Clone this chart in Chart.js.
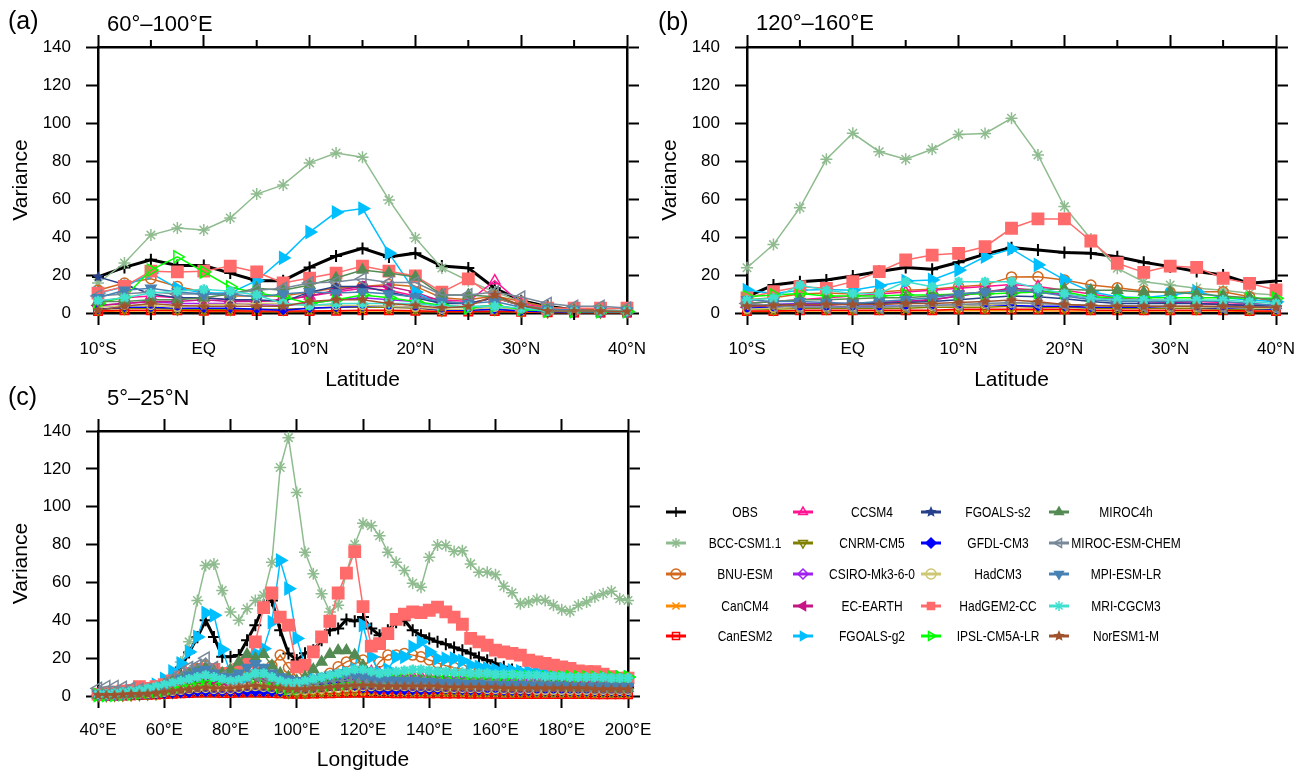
<!DOCTYPE html>
<html>
<head>
<meta charset="utf-8">
<script src="https://cdn.jsdelivr.net/npm/chart.js@4.4.1/dist/chart.umd.min.js"></script>
<style>
  html, body { margin: 0; padding: 0; background: #fff; overflow: hidden; }
  body { width: 1311px; height: 774px; position: relative; }
  canvas { position: absolute; }
</style>
</head>
<body>
<canvas id="panelA" width="660" height="400" style="left:0;top:0"></canvas>
<canvas id="panelB" width="660" height="400" style="left:649px;top:0"></canvas>
<canvas id="panelC" width="1311" height="390" style="left:0;top:384px"></canvas>
<script>
// ---- axes ----
const latitudes = [-10, -7.5, -5, -2.5, 0, 2.5, 5, 7.5, 10, 12.5, 15, 17.5, 20, 22.5, 25, 27.5, 30, 32.5, 35, 37.5, 40];
const latTicks = [-10, 0, 10, 20, 30, 40];
const latTickLabels = ['10°S', 'EQ', '10°N', '20°N', '30°N', '40°N'];
const latMinorTicks = [-5, 5, 15, 25, 35];

const longitudes = [40, 42.5, 45, 47.5, 50, 52.5, 55, 57.5, 60, 62.5, 65, 67.5, 70, 72.5, 75, 77.5, 80, 82.5, 85, 87.5,
  90, 92.5, 95, 97.5, 100, 102.5, 105, 107.5, 110, 112.5, 115, 117.5, 120, 122.5, 125, 127.5, 130, 132.5, 135, 137.5,
  140, 142.5, 145, 147.5, 150, 152.5, 155, 157.5, 160, 162.5, 165, 167.5, 170, 172.5, 175, 177.5, 180, 182.5, 185, 187.5,
  190, 192.5, 195, 197.5, 200];
const lonTicks = [40, 60, 80, 100, 120, 140, 160, 180, 200];
const lonTickLabels = ['40°E', '60°E', '80°E', '100°E', '120°E', '140°E', '160°E', '180°E', '200°E'];

const modelNames = ['OBS', 'BCC-CSM1.1', 'BNU-ESM', 'CanCM4', 'CanESM2', 'CCSM4', 'CNRM-CM5', 'CSIRO-Mk3-6-0',
  'EC-EARTH', 'FGOALS-g2', 'FGOALS-s2', 'GFDL-CM3', 'HadCM3', 'HadGEM2-CC', 'IPSL-CM5A-LR', 'MIROC4h',
  'MIROC-ESM-CHEM', 'MPI-ESM-LR', 'MRI-CGCM3', 'NorESM1-M'];

// ---- (a) 60-100E, by latitude ----
const aOBS      = [19, 24, 28, 25, 25, 21, 17, 17, 24, 30, 34, 29.5, 31.5, 24.7, 23.7, 13, 6.5, 3.5, 1.6, 1, 0.8];
const aBCC      = [15.8, 26.3, 41, 44.7, 43.7, 50, 62.6, 67.4, 79, 84.2, 82, 59.5, 39.5, 23.7, 17, 11, 6, 3, 1.5, 1.2, 1];
const aBNU      = [12, 15.8, 18, 14, 11, 9, 9, 9, 11, 13, 14, 15, 14, 8, 7, 9, 6, 3, 2, 1.5, 1];
const aCanCM4   = [0.8, 1, 1, 1, 0.8, 0.8, 0.6, 0.6, 0.8, 1, 1, 1, 0.8, 0.6, 0.6, 0.8, 0.5, 0.3, 0.3, 0.3, 0.3];
const aCanESM2  = [1, 1.5, 1.5, 1.5, 1.2, 1.2, 1, 1, 1, 1.2, 1.5, 1.5, 1.2, 0.8, 0.8, 1, 0.6, 0.4, 0.3, 0.3, 0.3];
const aCCSM4    = [6, 8, 9, 8, 8, 7, 6, 7, 9, 11, 13, 12, 9, 7, 6, 17, 5, 2.5, 1.5, 1, 1];
const aCNRM     = [2, 2.5, 2.5, 2, 2, 2, 2, 2, 2.5, 3, 3, 3, 2.5, 1.5, 1.5, 2, 1, 0.6, 0.5, 0.5, 0.5];
const aCSIRO    = [4, 5, 6, 5, 5, 5, 4.5, 4, 5, 7, 8, 7, 6, 3, 3, 4, 2, 1, 0.8, 0.8, 0.6];
const aECEARTH  = [4, 5, 6, 6, 7, 6, 6, 7, 9, 12, 14, 14, 11, 6, 5, 8, 4, 2, 1, 0.8, 0.8];
const aFGOALSg2 = [10.5, 13.7, 21, 13, 10.5, 10.5, 17, 29, 42.6, 53, 55, 31.5, 11, 4, 3, 3, 2, 1.5, 1, 1, 0.8];
const aFGOALSs2 = [19, 15, 10, 8, 8, 7, 7, 6, 11, 14, 14, 11, 8, 5, 5, 8, 4, 2, 1.5, 1, 1];
const aGFDL     = [2, 3, 3, 2.5, 2.5, 2.5, 2, 1.5, 2.5, 3, 3.5, 3.5, 3, 1.5, 1.5, 2, 1, 0.6, 0.5, 0.5, 0.5];
const aHadCM3   = [3, 4, 4, 3, 4.5, 4.5, 5, 5, 4, 4, 4, 3.5, 3, 2, 2, 3, 2, 1, 0.8, 0.8, 0.6];
const aHadGEM2  = [10.5, 14, 22, 21.6, 22, 24.7, 21.6, 15.8, 18.4, 21, 24.7, 22, 19.5, 11, 18, 8, 4, 2.5, 2.5, 2.5, 2.5];
const aIPSL     = [5, 8.4, 22.6, 29.5, 21.6, 13.7, 10.5, 8.4, 5, 7, 9.5, 8, 6, 4, 3, 4, 2, 1, 0.8, 0.8, 0.8];
const aMIROC4h  = [6, 6, 7, 7, 8, 10, 13, 12, 14.7, 18.4, 22.6, 21, 19, 9.5, 9.5, 8.5, 4, 2, 1.5, 1, 1];
const aMIROCESM = [9, 10, 11, 10, 10, 10, 12, 13, 15.8, 16.3, 18, 16, 16, 9.5, 9.5, 11, 8.4, 5, 3.5, 3.5, 2.6];
const aMPI      = [8, 12, 13, 11, 10, 10, 8.4, 10, 11, 10.5, 11, 10, 8.4, 6, 5, 6, 3, 2, 1.5, 1, 1];
const aMRI      = [6.5, 8, 10.5, 11.5, 12.5, 11.5, 9.5, 5, 4, 5, 5, 5, 5, 3.5, 3.5, 3.5, 2.6, 1, 1, 1, 1];
const aNorESM   = [1.5, 3.5, 5, 4, 3.5, 3.5, 3.5, 3.5, 6, 7, 7, 5, 4, 2.6, 3.5, 9.5, 4, 1, 1, 1, 0.8];

// ---- (b) 120-160E, by latitude ----
const bOBS      = [8.6, 14.7, 16.5, 17.4, 19.5, 21.8, 23.9, 23, 26.7, 31, 34.4, 33.2, 31.9, 31.4, 29.6, 26.7, 24.4, 21.8, 20, 15.6, 16.8];
const bBCC      = [23.8, 36, 55.4, 80.9, 94.6, 84.9, 80.9, 86.2, 94, 94.5, 102.5, 83.2, 56, 39, 23.5, 16.5, 14.7, 13, 12, 10.4, 9.5];
const bBNU      = [7, 8, 10, 10.5, 10, 11, 12, 12.5, 13.8, 14.8, 19, 19.1, 17.4, 14.7, 13.3, 11.6, 10.7, 11.2, 11.2, 8.6, 5.9];
const bCanCM4   = [0.8, 0.8, 1, 1, 1, 1, 1, 1, 1.2, 1.2, 1.2, 1.2, 1, 1, 1, 1, 1, 1, 1, 0.8, 0.8];
const bCanESM2  = [1, 1, 1.5, 1.5, 1.5, 1.5, 1.5, 1.5, 2, 2, 2, 2, 2, 1.5, 1.5, 1.5, 1.5, 1.5, 1.5, 1, 1];
const bCCSM4    = [5, 6, 7, 8, 9, 10, 11, 12, 13, 14, 15, 14, 12, 10, 8, 7, 6.5, 6, 5.5, 5, 4];
const bCNRM     = [2, 2, 2.5, 2.5, 2.5, 2.5, 2.5, 3, 3, 3, 3.5, 3, 3, 2.5, 2.5, 2.5, 2.5, 2.5, 2, 2, 2];
const bCSIRO    = [4, 4.5, 5, 5, 5, 5.5, 6, 7, 9, 11, 12, 11, 9.5, 8, 7, 6, 5.5, 5, 4.5, 4, 3.5];
const bECEARTH  = [3, 3.5, 4, 4, 5, 5.5, 6, 7, 9, 11, 13, 12, 10, 8, 7, 6, 5.5, 5, 4.5, 4, 3.5];
const bFGOALSg2 = [12, 10.3, 12, 12.4, 12, 14.4, 16.8, 17.4, 22.6, 29.6, 33.7, 25.3, 17.4, 11.2, 8.6, 8, 9.5, 11.2, 8, 6.8, 5.9];
const bFGOALSs2 = [4, 4.5, 4.5, 4.5, 5, 5, 5.5, 6, 7, 8, 9, 8.5, 7.5, 6, 5, 5, 5, 5, 4.5, 4, 3.5];
const bGFDL     = [2.5, 3, 3, 3, 3.5, 3.5, 3.5, 4, 4, 4.5, 4, 3.5, 3.5, 3, 3, 3, 3, 3, 2.5, 2.5, 2];
const bHadCM3   = [2, 2.5, 3, 3, 3, 3, 3.5, 3.5, 4, 4.5, 5, 5, 4.5, 4, 3.5, 3.5, 3, 3, 3, 2.5, 2.5];
const bHadGEM2  = [8, 11.2, 13.8, 13, 16.5, 21.8, 27.9, 30.5, 31.4, 34.9, 44.6, 49.5, 49.5, 37.9, 26.2, 21.4, 24.7, 24, 18.3, 15.6, 12.1];
const bIPSL     = [8.6, 9.5, 10.3, 9, 9, 9, 9.5, 9.5, 10, 10, 10.5, 11, 11, 8.6, 8, 8, 8, 8, 8, 7.7, 7.7];
const bMIROC4h  = [5, 6, 7, 7, 7.5, 8, 8, 9, 10, 11, 12, 12.5, 12.5, 12, 12, 11, 11, 10, 9, 8, 7];
const bMIROCESM = [5, 4, 3, 3, 3, 3, 3.5, 4, 4.5, 5, 5.5, 5, 4.5, 4, 4, 3.5, 3.5, 3.5, 3, 3, 3];
const bMPI      = [7, 6, 6, 5.5, 5, 6, 7, 8, 10, 11, 12, 11, 9, 7, 6, 6, 6, 6.5, 6, 5, 4];
const bMRI      = [6.8, 7.7, 14.7, 12, 10.3, 10.3, 16.5, 13.8, 16.5, 16.5, 16.5, 13, 10.3, 7.7, 6.8, 6.8, 6.8, 6.8, 6.8, 5.9, 5];
const bNorESM   = [3.5, 4, 4.5, 4.5, 4.5, 4.5, 5, 5, 5.5, 6, 6.8, 5.9, 4.5, 4, 3.5, 3.5, 3.5, 3.5, 3.5, 3, 3];

// ---- (c) 5-25N, by longitude ----
const cOBS      = [0.5, 0.5, 0.8, 1, 1.2, 1.5, 2, 3, 5, 9, 15, 23, 31, 40, 31.2, 20.7, 20.7, 21.6, 29.5, 37.4,
  47.9, 50.5, 34.7, 22.5, 19, 22.6, 24.2, 29.5, 34.7, 35.6, 40.4, 39.5, 41.7, 35.6, 32.1, 34.7, 39, 40, 34.7, 32.1,
  30.4, 28.6, 27.4, 25.6, 24.2, 22.5, 20.4, 18.9, 17.2, 15.4, 14, 12.5, 11, 10.2, 9, 8, 7.5, 7, 6.5, 6,
  5.5, 5, 5, 4.5, 4.5];
const cBCC      = [1, 1, 1.5, 1.5, 2, 2.5, 3, 4, 6, 10, 18, 28.6, 50.5, 69, 69.8, 55.8, 44.4, 40, 46.1, 50.5,
  53.2, 70.7, 120.7, 136.5, 107.5, 76, 64.6, 54, 44.4, 48, 65, 80, 91.2, 90, 84.7, 76, 70.7, 66.3, 59.6, 57.5,
  73.3, 79.8, 79.5, 76.3, 76.8, 69.8, 65.4, 65.4, 64, 58, 54.6, 48.8, 49.6, 51, 50.5, 47.9, 45.6, 44.7, 47.9, 49.6,
  52.3, 54, 55.4, 51.4, 50.5];
const cBNU      = [0.5, 0.5, 0.8, 1, 1.5, 2, 3, 4, 6, 8, 10, 12, 14, 16, 14, 12, 10, 9, 10, 12,
  14, 16, 21.6, 15, 10, 8, 8, 9, 12, 15.4, 18, 19.8, 19, 12, 18, 21.6, 21.6, 22.5, 21.6, 20.7,
  19, 17.5, 16, 15, 14, 13, 12.5, 12, 11.5, 11, 10.5, 10, 10, 9.5, 9.5, 9, 9, 9, 8.5, 8.5,
  8.5, 8, 8, 8, 8];
const cCanCM4   = [0.1, 0.1, 0.2, 0.2, 0.3, 0.3, 0.4, 0.5, 0.6, 0.7, 0.8, 0.9, 1, 1, 0.9, 0.8, 0.8, 0.9, 1, 1,
  0.9, 0.8, 0.7, 0.7, 0.6, 0.6, 0.7, 0.7, 0.8, 0.8, 0.9, 0.9, 1, 0.9, 0.9, 0.8, 0.8, 0.8, 0.8, 0.7,
  0.7, 0.7, 0.7, 0.7, 0.6, 0.6, 0.6, 0.6, 0.6, 0.6, 0.5, 0.5, 0.5, 0.5, 0.5, 0.5, 0.5, 0.5, 0.5, 0.5,
  0.4, 0.4, 0.4, 0.4, 0.4];
const cCanESM2  = [0.2, 0.2, 0.3, 0.3, 0.4, 0.5, 0.6, 0.8, 1, 1.2, 1.4, 1.6, 1.8, 2, 1.8, 1.6, 1.6, 1.8, 2, 2,
  1.8, 1.6, 1.4, 1.2, 1.2, 1.2, 1.3, 1.4, 1.5, 1.6, 1.7, 1.8, 1.8, 1.7, 1.6, 1.6, 1.5, 1.5, 1.5, 1.4,
  1.4, 1.4, 1.3, 1.3, 1.3, 1.2, 1.2, 1.2, 1.2, 1.1, 1.1, 1.1, 1.1, 1, 1, 1, 1, 1, 1, 1,
  0.9, 0.9, 0.9, 0.9, 0.9];
const cCCSM4    = [0.5, 0.5, 0.8, 1, 1, 1.5, 2, 2.5, 3.5, 5, 6, 8, 9, 10, 9, 8, 8, 10, 12, 13,
  12, 10, 8, 7, 7, 7.5, 8, 9, 10, 11, 12, 13, 14, 13, 12, 11.5, 11, 11, 10.5, 10.5,
  10, 10, 9.5, 9.5, 9, 9, 9, 8.5, 8.5, 8.5, 8, 8, 8, 8, 7.5, 7.5, 7.5, 7.5, 7, 7,
  7, 7, 7, 7, 7];
const cCNRM     = [0.3, 0.3, 0.4, 0.5, 0.6, 0.8, 1, 1.2, 1.5, 2, 2.5, 3, 3.5, 3.5, 3, 3, 3, 3.5, 4, 4,
  3.5, 3, 2.5, 2, 2, 2, 2.5, 2.5, 3, 3, 3.5, 3.5, 4, 3.5, 3.5, 3.5, 3.5, 3.5, 3, 3,
  3, 3, 3, 3, 3, 2.8, 2.8, 2.8, 2.8, 2.6, 2.6, 2.6, 2.6, 2.5, 2.5, 2.5, 2.5, 2.5, 2.4, 2.4,
  2.4, 2.4, 2.3, 2.3, 2.3];
const cCSIRO    = [0.5, 0.5, 0.8, 1, 1.2, 1.5, 2, 2.5, 3, 4, 5, 6, 7, 8, 7, 6.5, 7, 8, 10, 11,
  10, 8, 6.5, 5.5, 5, 5, 5.5, 6, 7, 8, 9, 10, 10.5, 10, 9.5, 9.5, 9.5, 9, 9, 9,
  8.5, 8.5, 8.5, 8, 8, 8, 7.5, 7.5, 7.5, 7, 7, 7, 7, 7, 6.5, 6.5, 6.5, 6.5, 6.5, 6,
  6, 6, 6, 6, 6];
const cECEARTH  = [0.5, 0.5, 0.5, 0.8, 1, 1.2, 1.5, 2, 3, 4, 5, 6, 7, 7.5, 7, 6.5, 6.5, 7.5, 9, 10,
  9, 7.5, 6, 5, 4.5, 4.5, 5, 5.5, 6, 6.5, 7, 7.5, 8, 7.5, 7, 7, 7, 7, 7, 6.5,
  6.5, 6.5, 6.5, 6, 6, 6, 6, 6, 5.5, 5.5, 5.5, 5.5, 5.5, 5, 5, 5, 5, 5, 5, 5,
  5, 4.5, 4.5, 4.5, 4.5];
const cFGOALSg2 = [0.5, 0.5, 1, 1, 1.5, 3, 4, 6, 9, 13, 17.2, 23.3, 31.2, 43.9, 42.6, 24.6, 12, 9, 10, 22.5,
  25, 39, 71.6, 56.7, 30.4, 16, 9, 8, 8, 10, 12, 14, 37.4, 20.7, 12, 14, 20.7, 20.7, 26, 28.6,
  23.3, 19.8, 19.8, 19.8, 18.6, 16.3, 15.4, 14.6, 14, 14, 13.5, 13, 13, 12.5, 12, 12, 11.5, 11.5, 11, 11,
  10.5, 10.5, 10, 10, 10];
const cFGOALSs2 = [1, 1, 1, 1.5, 1.5, 2, 2.5, 3, 4, 6, 8, 10, 12, 13, 11, 10, 12, 16, 20, 18,
  14, 10, 8, 7, 6, 6, 6.5, 7, 7.5, 8, 8, 7.5, 7, 6.5, 6.5, 6.5, 6.5, 6.5, 6, 6,
  6, 6, 6, 5.5, 5.5, 5.5, 5.5, 5.5, 5, 5, 5, 5, 5, 5, 5, 5, 4.5, 4.5, 4.5, 4.5,
  4.5, 4.5, 4.5, 4.5, 4.5];
const cGFDL     = [0.3, 0.3, 0.3, 0.5, 0.5, 0.5, 0.8, 1, 1, 1.2, 1.5, 1.5, 2, 2, 2, 2, 2, 2, 2, 2,
  2, 2, 2, 2.5, 3, 3.5, 4, 4.5, 5, 5.5, 5.5, 5, 4, 3.5, 3, 3, 3, 3, 3, 3,
  3, 3.2, 3.4, 3.3, 3.1, 3, 2.9, 2.8, 2.8, 2.7, 2.7, 2.6, 2.6, 2.6, 2.5, 2.5, 2.5, 2.5, 2.4, 2.4,
  2.4, 2.4, 2.4, 2.3, 2.3];
const cHadCM3   = [0.3, 0.3, 0.5, 0.5, 0.8, 1, 1.2, 1.5, 2, 2.5, 3, 3.5, 4, 4, 3.5, 3.5, 3.5, 4, 4.5, 5,
  4.5, 4, 3.5, 3, 3, 3, 3.5, 3.5, 4, 4, 4.5, 4.5, 5, 5, 5, 5, 5, 5, 4.5, 4.5,
  4.5, 4.5, 4, 4, 4, 4, 4, 3.5, 3.5, 3.5, 3.5, 3.5, 3.5, 3, 3, 3, 3, 3, 3, 3,
  3, 3, 3, 3, 3];
const cHadGEM2  = [1, 1.5, 2, 2.5, 3, 5, 4, 5, 6, 8, 10, 12, 14, 14, 14, 12, 12, 14, 18, 28.6,
  46.7, 54.4, 41.7, 37.4, 15.4, 16.3, 23.3, 31.2, 39.5, 54.4, 64.9, 76.3, 47.2, 26.3, 27.7, 33, 40.5, 43.2, 44.4, 44,
  45.3, 47, 44.4, 41.7, 37.9, 30.4, 28.6, 26.8, 24.2, 23.3, 22.5, 21.6, 18.9, 18, 17.2, 16.3, 15.4, 14.6, 13.3, 12.8,
  12.8, 11.6, 10.2, 9.4, 9.4];
const cIPSL     = [0.5, 0.5, 0.5, 0.8, 1, 1.5, 2, 2.5, 3, 4, 5, 6, 7, 8, 8, 9, 10, 11, 12, 10,
  8, 6, 5, 4, 4, 4.5, 5, 5.5, 6, 6.5, 7, 7.5, 8, 8, 8.5, 8.5, 9, 9, 9, 9,
  9, 9, 9, 9, 9, 9.5, 9.5, 9.5, 9.5, 9.5, 9.5, 10, 10, 10, 10, 10, 10, 10, 10, 10,
  10, 10, 10, 10, 10];
const cMIROC4h  = [0.5, 0.5, 1, 1, 1.5, 2, 3, 4, 6, 8, 10, 12, 14, 15, 13, 12, 14, 18, 22, 20,
  22, 16, 12, 10, 8, 10, 14, 18, 22, 24, 24, 21.6, 16, 12, 10, 9, 8.5, 8, 8, 8,
  8, 7.5, 7.5, 7, 7, 6.5, 6.5, 6, 6, 6, 5.5, 5.5, 5.5, 5, 5, 5, 5, 5, 4.5, 4.5,
  4.5, 4.5, 4, 4, 4];
const cMIROCESM = [4, 5, 5, 4.5, 4, 3.5, 3.5, 4, 6, 9, 12, 15, 16, 20, 15, 10, 9, 9, 10, 11,
  10, 9, 8, 7, 6, 6, 6.5, 7, 7.5, 8, 8, 8, 7.5, 7, 7, 7, 7, 7, 7, 7,
  6.5, 6.5, 6.5, 6.5, 6, 6, 6, 6, 6, 6, 6, 6, 6, 6, 6, 6, 6, 6, 5.5, 5.5,
  5.5, 5.5, 5.5, 5.5, 5.5];
const cMPI      = [1, 1, 1.5, 1.5, 2, 2.5, 3, 4, 5, 7, 9, 11, 13, 14, 12, 10, 10, 12, 15, 17,
  15, 12, 10, 9, 8, 8, 9, 10, 11, 12, 12, 11, 10, 9, 8.5, 8.5, 8, 8, 8, 7.5,
  7.5, 7, 7, 7, 6.5, 6.5, 6.5, 6, 6, 6, 6, 6, 5.5, 5.5, 5.5, 5.5, 5.5, 5, 5, 5,
  5, 5, 5, 5, 5];
const cMRI      = [1, 1, 1.5, 2, 2.5, 3, 4, 5, 6, 7, 8, 9, 10, 11, 10, 9, 8, 8.5, 10, 12,
  12, 10, 8, 7, 7, 8, 9, 10, 11, 12, 13, 14, 14, 13, 12, 12.5, 13, 13.5, 14, 14,
  13.5, 13, 13, 12.5, 12.5, 12, 12, 12, 11.5, 11.5, 11.5, 11, 11, 11, 10.5, 10.5, 10.5, 10, 10, 10,
  10, 10, 9.5, 9.5, 9.5];
const cNorESM   = [0.5, 0.5, 0.5, 0.8, 1, 1, 1.2, 1.5, 2, 2.5, 3, 3.5, 4, 4.5, 4, 4, 4, 4.5, 5, 5.5,
  5, 4.5, 4, 3.5, 3.5, 3.5, 4, 4, 4.5, 5, 5, 5.5, 5.5, 5.5, 5, 5, 5, 5, 5, 5,
  5, 5, 4.5, 4.5, 4.5, 4.5, 4.5, 4.5, 4.5, 4, 4, 4, 4, 4, 4, 4, 4, 4, 4, 4,
  3.5, 3.5, 3.5, 3.5, 3.5];

const seriesA = [aOBS, aBCC, aBNU, aCanCM4, aCanESM2, aCCSM4, aCNRM, aCSIRO, aECEARTH, aFGOALSg2,
  aFGOALSs2, aGFDL, aHadCM3, aHadGEM2, aIPSL, aMIROC4h, aMIROCESM, aMPI, aMRI, aNorESM];
const seriesB = [bOBS, bBCC, bBNU, bCanCM4, bCanESM2, bCCSM4, bCNRM, bCSIRO, bECEARTH, bFGOALSg2,
  bFGOALSs2, bGFDL, bHadCM3, bHadGEM2, bIPSL, bMIROC4h, bMIROCESM, bMPI, bMRI, bNorESM];
const seriesC = [cOBS, cBCC, cBNU, cCanCM4, cCanESM2, cCCSM4, cCNRM, cCSIRO, cECEARTH, cFGOALSg2,
  cFGOALSs2, cGFDL, cHadCM3, cHadGEM2, cIPSL, cMIROC4h, cMIROCESM, cMPI, cMRI, cNorESM];

const FONT = '"Liberation Sans", Arial, Helvetica, sans-serif';

// filled five-point star used as a marker image
function starMarker(color, r) {
  const c = document.createElement('canvas');
  const s = Math.ceil(r * 2 + 2);
  c.width = s; c.height = s;
  const g = c.getContext('2d');
  g.fillStyle = color;
  g.beginPath();
  for (let i = 0; i < 10; i++) {
    const rr = i % 2 ? r * 0.45 : r;
    const a = -Math.PI / 2 + i * Math.PI / 5;
    g.lineTo(s / 2 + rr * Math.cos(a), s / 2 + rr * Math.sin(a));
  }
  g.closePath();
  g.fill();
  return c;
}

// marker/line look for each model, same order as modelNames
const styles = [
  { color: '#000000', shape: 'cross', fill: false, r: 6, line: 3, bw: 2 },
  { color: '#8FBC8F', shape: 'star', fill: false, r: 6 },
  { color: '#D2691E', shape: 'circle', fill: false, r: 5 },
  { color: '#FF8C00', shape: 'crossRot', fill: false, r: 5 },
  { color: '#FF0000', shape: 'rect', fill: false, r: 6 },
  { color: '#FF1493', shape: 'triangle', fill: false, r: 6 },
  { color: '#808000', shape: 'triangle', rot: 180, fill: false, r: 6 },
  { color: '#A020F0', shape: 'rectRot', fill: false, r: 5 },
  { color: '#C71585', shape: 'triangle', rot: 270, fill: true, r: 6 },
  { color: '#00BFFF', shape: 'triangle', rot: 90, fill: true, r: 7 },
  { color: '#27408B', shape: 'star5', fill: true, r: 6 },
  { color: '#0000FF', shape: 'rectRot', fill: true, r: 4 },
  { color: '#CDC673', shape: 'circle', fill: false, r: 4 },
  { color: '#FF6A6A', shape: 'rect', fill: true, r: 8 },
  { color: '#00FF00', shape: 'triangle', rot: 90, fill: false, r: 7 },
  { color: '#548B54', shape: 'triangle', fill: true, r: 6 },
  { color: '#778899', shape: 'triangle', rot: 270, fill: false, r: 7 },
  { color: '#4682B4', shape: 'triangle', rot: 180, fill: true, r: 6 },
  { color: '#40E0D0', shape: 'star', fill: false, r: 5, bw: 2.5 },
  { color: '#A0522D', shape: 'star5', fill: true, r: 6 }
];

function buildDatasets(xs, series) {
  return series.map((vals, i) => {
    const st = styles[i];
    return {
      label: modelNames[i],
      data: vals.map((v, j) => ({ x: xs[j], y: v })),
      borderColor: st.color,
      borderWidth: st.line || 1.5,
      pointStyle: st.shape === 'star5' ? starMarker(st.color, st.r) : st.shape,
      pointRotation: st.rot || 0,
      pointRadius: st.r,
      pointBorderWidth: st.bw || 1.5,
      pointBorderColor: st.color,
      pointBackgroundColor: st.fill ? st.color : 'rgba(0,0,0,0)',
      order: -i,
      clip: false
    };
  });
}

// panel letter, region title and minor x ticks
const panelDecor = {
  id: 'panelDecor',
  afterDraw(chart, args, o) {
    const ctx = chart.ctx;
    const area = chart.chartArea;
    ctx.save();
    ctx.fillStyle = '#000';
    ctx.textAlign = 'left';
    ctx.textBaseline = 'alphabetic';
    ctx.font = '25px ' + FONT;
    ctx.fillText(o.tag, o.tagX, o.tagY);
    ctx.font = '22px ' + FONT;
    ctx.fillText(o.title, area.left + 9, o.titleY);
    if (o.minor) {
      const sx = chart.scales.x;
      ctx.strokeStyle = '#000';
      ctx.lineWidth = 2;
      for (let k = 0; k < o.minor.length; k++) {
        const px = sx.getPixelForValue(o.minor[k]);
        ctx.beginPath();
        ctx.moveTo(px, area.bottom);
        ctx.lineTo(px, area.bottom + 7);
        ctx.moveTo(px, area.top);
        ctx.lineTo(px, area.top - 7);
        ctx.stroke();
      }
    }
    ctx.restore();
  }
};

// 4 x 5 legend to the right of panel (c)
const legendGrid = {
  id: 'legendGrid',
  afterDraw(chart) {
    const ctx = chart.ctx;
    const colSample = [676, 803, 931, 1059];
    const colText = [745, 872, 998, 1126];
    const rowY = [128, 159, 190, 222, 252];
    ctx.save();
    ctx.font = '15px ' + FONT;
    ctx.textAlign = 'center';
    ctx.textBaseline = 'middle';
    chart.data.datasets.forEach((ds, i) => {
      const col = Math.floor(i / 5), row = i % 5;
      const cx = colSample[col], cy = rowY[row];
      ctx.strokeStyle = ds.borderColor;
      ctx.lineWidth = 3;
      ctx.beginPath();
      ctx.moveTo(cx - 10, cy);
      ctx.lineTo(cx + 10, cy);
      ctx.stroke();
      ctx.fillStyle = ds.pointBackgroundColor;
      ctx.lineWidth = 1.5;
      Chart.helpers.drawPoint(ctx, { pointStyle: ds.pointStyle, rotation: ds.pointRotation, radius: 5, borderWidth: 1.5 }, cx, cy);
      // labels are set a little narrow, like the plotting font
      ctx.fillStyle = '#000';
      ctx.save();
      ctx.translate(colText[col], cy + 1);
      ctx.scale(0.8, 1);
      ctx.fillText(ds.label, 0, 0);
      ctx.restore();
    });
    ctx.restore();
  }
};

function makePanel(id, cfg) {
  const canvas = document.getElementById(id);
  const W = canvas.width, H = canvas.height;
  const grid = { display: true, drawOnChartArea: false, drawTicks: true, tickLength: 12, tickWidth: 2, tickColor: '#000' };
  const border = { display: true, color: '#000', width: 2.5 };
  const tickFont = { family: FONT, size: 17 };
  const titleFont = { family: FONT, size: 21 };
  const xLabel = v => { const i = cfg.xTicks.indexOf(v); return i < 0 ? '' : cfg.xLabels[i]; };
  return new Chart(canvas, {
    type: 'line',
    data: { datasets: buildDatasets(cfg.xs, cfg.series) },
    options: {
      responsive: false,
      animation: false,
      devicePixelRatio: 1,
      events: [],
      layout: { padding: 0 },
      plugins: { legend: { display: false }, tooltip: { enabled: false }, panelDecor: cfg.decor },
      scales: {
        x: {
          type: 'linear', position: 'bottom', min: cfg.xMin, max: cfg.xMax, grid, border,
          ticks: { stepSize: cfg.xStep, color: '#000', font: tickFont, padding: cfg.xTickPad, maxRotation: 0, autoSkip: false, callback: xLabel },
          title: { display: true, text: cfg.xTitle, color: '#000', font: titleFont, padding: { top: 0, bottom: cfg.xTitlePad } },
          afterFit: s => { s.height = H - cfg.plot.b; }
        },
        xTop: {
          type: 'linear', position: 'top', min: cfg.xMin, max: cfg.xMax, grid, border,
          ticks: { display: false, stepSize: cfg.xStep },
          afterFit: s => { s.height = cfg.plot.t; }
        },
        y: {
          type: 'linear', position: 'left', min: 0, max: 140, grid, border,
          ticks: { stepSize: 20, color: '#000', font: tickFont, padding: 15 },
          title: { display: true, text: 'Variance', color: '#000', font: titleFont, padding: { top: 9, bottom: 0 } },
          afterFit: s => { s.width = cfg.plot.l; }
        },
        yRight: {
          type: 'linear', position: 'right', min: 0, max: 140, grid, border,
          ticks: { display: false, stepSize: 20 },
          afterFit: s => { s.width = W - cfg.plot.r; }
        }
      }
    },
    plugins: [panelDecor].concat(cfg.extra || [])
  });
}

makePanel('panelA', {
  xs: latitudes, series: seriesA, xMin: -10, xMax: 40, xStep: 10,
  xTicks: latTicks, xLabels: latTickLabels, xTitle: 'Latitude', xTickPad: 14, xTitlePad: 7,
  plot: { l: 98, t: 47, r: 628, b: 313 },
  decor: { tag: '(a)', tagX: 8, tagY: 29, title: '60°–100°E', titleY: 31, minor: latMinorTicks }
});

makePanel('panelB', {
  xs: latitudes, series: seriesB, xMin: -10, xMax: 40, xStep: 10,
  xTicks: latTicks, xLabels: latTickLabels, xTitle: 'Latitude', xTickPad: 14, xTitlePad: 7,
  plot: { l: 98, t: 47, r: 628, b: 313 },
  decor: { tag: '(b)', tagX: 9, tagY: 30, title: '120°–160°E', titleY: 30, minor: latMinorTicks }
});

makePanel('panelC', {
  xs: longitudes, series: seriesC, xMin: 40, xMax: 200, xStep: 20,
  xTicks: lonTicks, xLabels: lonTickLabels, xTitle: 'Longitude', xTickPad: 12, xTitlePad: 1,
  plot: { l: 98, t: 47, r: 628, b: 312 },
  decor: { tag: '(c)', tagX: 8, tagY: 21, title: '5°–25°N', titleY: 21 },
  extra: [legendGrid]
});
</script>
</body>
</html>
